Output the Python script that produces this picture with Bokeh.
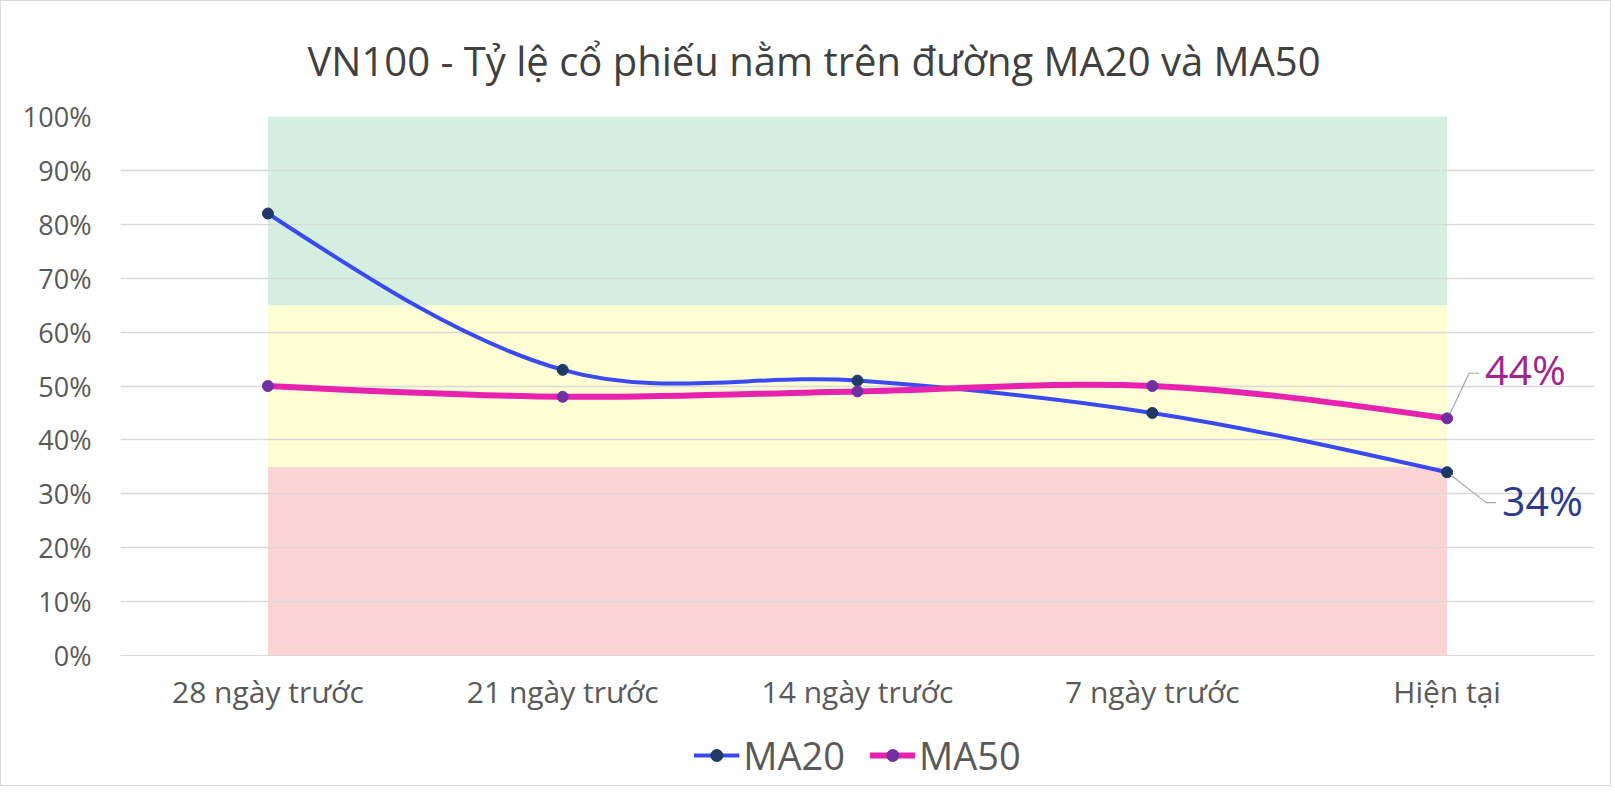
from bokeh.plotting import figure
from bokeh.layouts import column
from bokeh.models import (Range1d, FixedTicker, Legend, LegendItem, Label,
                          ColumnDataSource, Title)
from bokeh.embed import file_html
from bokeh.resources import INLINE

# ---------------- data ----------------
title_text = "VN100 - Tỷ lệ cổ phiếu nằm trên đường MA20 và MA50"
categories = ["28 ngày trước", "21 ngày trước", "14 ngày trước", "7 ngày trước", "Hiện tại"]
ma20 = [82, 53, 51, 45, 34]
ma50 = [50, 48, 49, 50, 44]
zone_red = [35, 35, 35, 35, 35]
zone_yellow = [65, 65, 65, 65, 65]
zone_green = [100, 100, 100, 100, 100]
y_ticks = [0, 10, 20, 30, 40, 50, 60, 70, 80, 90, 100]
y_tick_labels = ["0%", "10%", "20%", "30%", "40%", "50%", "60%", "70%", "80%", "90%", "100%"]
last_labels = ["34%", "44%"]
series_names = ["MA20", "MA50"]

FONT = "Open Sans"
W, H = 1609, 724
B_LEFT, B_RIGHT, B_TOP, B_BOTTOM = 119, 16, 104, 70
FRAME_W, FRAME_H = W - B_LEFT - B_RIGHT, H - B_TOP - B_BOTTOM
xs = list(range(len(categories)))

C20_LINE, C20_MARK = "#3B4AF0", "#1F3864"
C50_LINE, C50_MARK = "#E622AE", "#7030A0"

p = figure(width=W, height=H, output_backend="svg",
           toolbar_location=None, x_range=Range1d(-0.5, len(categories) - 0.5),
           y_range=Range1d(0, 100), min_border_left=B_LEFT, min_border_right=B_RIGHT,
           min_border_top=B_TOP, min_border_bottom=B_BOTTOM)
p.title = None
p.outline_line_color = None
p.background_fill_color = "white"
p.border_fill_color = "white"

t = Title(text=title_text, align="left", text_font=FONT, text_font_size="40px",
          text_font_style="normal", text_color="#404040", standoff=58, offset=187)
p.add_layout(t, "above")

# background zones
p.varea(x=xs, y1=[0] * len(xs), y2=zone_red, fill_color="#FDD4D4", level="image")
p.varea(x=xs, y1=zone_red, y2=zone_yellow, fill_color="#FEFED5", level="image")
p.varea(x=xs, y1=zone_yellow, y2=zone_green, fill_color="#D4EFE0", level="image")

# smooth (Excel-like) bezier segments computed from the series
def bezier_source(ys):
    n = len(ys)
    pts = list(zip(xs, ys))
    tang = []
    for i in range(n):
        a = pts[max(i - 1, 0)]
        b = pts[min(i + 1, n - 1)]
        tang.append(((b[0] - a[0]) / 6.0, (b[1] - a[1]) / 6.0))
    d = dict(x0=[], y0=[], x1=[], y1=[], cx0=[], cy0=[], cx1=[], cy1=[])
    for i in range(n - 1):
        p0, p1 = pts[i], pts[i + 1]
        c0 = [p0[0] + tang[i][0], p0[1] + tang[i][1]]
        c1 = [p1[0] - tang[i + 1][0], p1[1] - tang[i + 1][1]]
        if i == 0:
            c0 = [(p0[0] + c1[0]) / 2, (p0[1] + c1[1]) / 2]
        if i == n - 2:
            c1 = [(p1[0] + c0[0]) / 2, (p1[1] + c0[1]) / 2]
        d["x0"].append(p0[0]); d["y0"].append(p0[1])
        d["x1"].append(p1[0]); d["y1"].append(p1[1])
        d["cx0"].append(c0[0]); d["cy0"].append(c0[1])
        d["cx1"].append(c1[0]); d["cy1"].append(c1[1])
    return ColumnDataSource(d)

p.bezier("x0", "y0", "x1", "y1", "cx0", "cy0", "cx1", "cy1",
         source=bezier_source(ma20), line_color=C20_LINE, line_width=4, line_cap="round")
p.scatter(xs, ma20, size=11, fill_color=C20_MARK, line_color=C20_MARK)
p.bezier("x0", "y0", "x1", "y1", "cx0", "cy0", "cx1", "cy1",
         source=bezier_source(ma50), line_color=C50_LINE, line_width=6, line_cap="round")
p.scatter(xs, ma50, size=11, fill_color=C50_MARK, line_color=C50_MARK)

# data labels on last points with leader lines
px_x = (len(categories)) / FRAME_W
px_y = 100.0 / FRAME_H
last = len(categories) - 1
# 44% (MA50)
p.line([last + 3 * px_x, last + 22 * px_x, last + 32 * px_x],
       [ma50[-1] + 5 * px_y, ma50[-1] + 46 * px_y, ma50[-1] + 46 * px_y],
       line_color="#A6A6A6", line_width=1.2)
p.add_layout(Label(x=last, y=ma50[-1], text=last_labels[1], x_offset=38, y_offset=49,
                   text_baseline="middle", text_font=FONT, text_font_size="41px",
                   text_color="#A0258F"))
# 34% (MA20)
p.line([last + 4 * px_x, last + 39 * px_x, last + 49 * px_x],
       [ma20[-1] - 3 * px_y, ma20[-1] - 31 * px_y, ma20[-1] - 31 * px_y],
       line_color="#A6A6A6", line_width=1.2)
p.add_layout(Label(x=last, y=ma20[-1], text=last_labels[0], x_offset=55, y_offset=-28,
                   text_baseline="middle", text_font=FONT, text_font_size="41px",
                   text_color="#2B3A8F"))

# axes
p.xaxis.ticker = FixedTicker(ticks=xs)
p.xaxis.major_label_overrides = {i: c for i, c in zip(xs, categories)}
p.xaxis.major_tick_line_color = None
p.xaxis.minor_tick_line_color = None
p.xaxis.axis_line_color = "#D9D9D9"
p.xaxis.major_label_text_font = FONT
p.xaxis.major_label_text_font_size = "30px"
p.xaxis.major_label_text_color = "#595959"
p.xaxis.major_label_standoff = 9

p.yaxis.ticker = FixedTicker(ticks=y_ticks)
p.yaxis.major_label_overrides = {v: l for v, l in zip(y_ticks, y_tick_labels)}
p.yaxis.major_tick_line_color = None
p.yaxis.minor_tick_line_color = None
p.yaxis.axis_line_color = None
p.yaxis.major_label_text_font = FONT
p.yaxis.major_label_text_font_size = "27px"
p.yaxis.major_label_text_color = "#595959"
p.yaxis.major_label_standoff = 23

p.xgrid.grid_line_color = None
p.ygrid.grid_line_color = "#D9D9D9"
p.ygrid.grid_line_width = 1.3

# legend strip (its own small figure; series drawn out of view, only the keys show)
lg = figure(width=W, height=60, output_backend="svg", toolbar_location=None,
            x_range=Range1d(-0.5, len(categories) - 0.5), y_range=Range1d(200, 300),
            min_border=0)
lg.axis.visible = False
lg.grid.grid_line_color = None
lg.outline_line_color = None
lg.border_fill_color = "white"
l20 = lg.line(xs, ma20, line_color=C20_LINE, line_width=4)
m20 = lg.scatter(xs, ma20, size=11, fill_color=C20_MARK, line_color=C20_MARK)
l50 = lg.line(xs, ma50, line_color=C50_LINE, line_width=6)
m50 = lg.scatter(xs, ma50, size=11, fill_color=C50_MARK, line_color=C50_MARK)
legend = Legend(items=[LegendItem(label=series_names[0], renderers=[l20, m20]),
                       LegendItem(label=series_names[1], renderers=[l50, m50])],
                orientation="horizontal", location="center",
                label_text_font=FONT, label_text_font_size="38px",
                label_text_color="#595959", glyph_width=46, glyph_height=30,
                label_standoff=4, spacing=24, border_line_color=None,
                background_fill_alpha=0, padding=0, margin=0)
lg.add_layout(legend, "center")

layout = column(p, lg, spacing=0, styles={"border": "1px solid #D9D9D9"})

open("out.html", "w").write(file_html(layout, INLINE))
